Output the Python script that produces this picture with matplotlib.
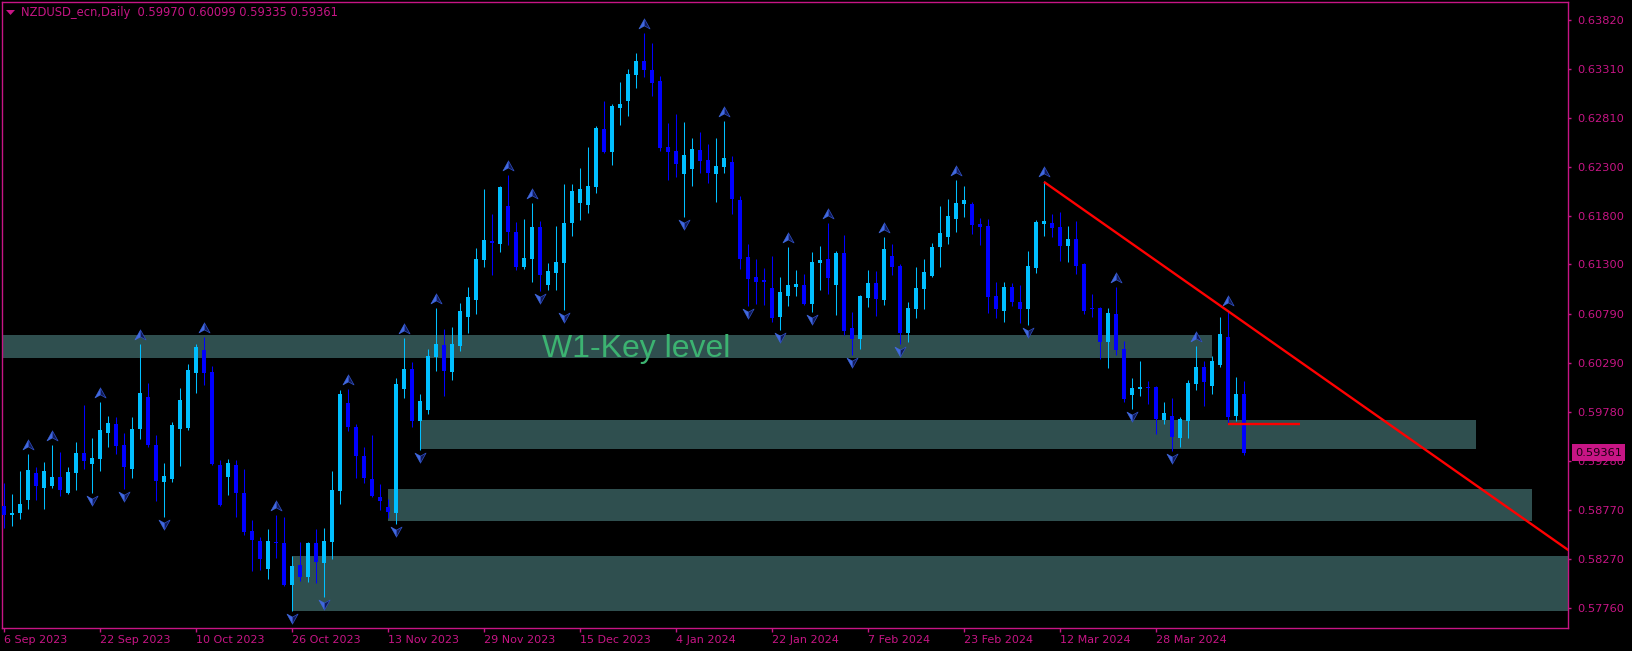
import matplotlib
matplotlib.use('Agg')
import matplotlib.pyplot as plt
import matplotlib.transforms as mtransforms
from matplotlib.path import Path
from matplotlib.patches import Rectangle, Polygon
import numpy as np

# ---------------- data ----------------
opens = [0.58812, 0.58720, 0.58740, 0.58874, 0.59152, 0.58998, 0.59018, 0.59111, 0.58946, 0.59152,
         0.59358, 0.59245, 0.59296, 0.59564, 0.59657, 0.59441, 0.59193, 0.59605, 0.59935, 0.59441,
         0.59059, 0.59090, 0.59605, 0.59616, 0.60182, 0.60419, 0.60192, 0.59235, 0.59111, 0.59235,
         0.58946, 0.58555, 0.58452, 0.58163, 0.58431, 0.58431, 0.57999, 0.58205, 0.58081, 0.58431,
         0.58225, 0.58441, 0.58967, 0.59873, 0.59626, 0.59327, 0.59090, 0.58905, 0.58802, 0.58740,
         0.60017, 0.60223, 0.59688, 0.59801, 0.60347, 0.60471, 0.60192, 0.60460, 0.60759, 0.60934,
         0.61346, 0.61541, 0.61511, 0.61902, 0.61634, 0.61274, 0.61356, 0.61686, 0.61089, 0.61212,
         0.61315, 0.61727, 0.61933, 0.61913, 0.62098, 0.62695, 0.62458, 0.62912, 0.62984, 0.63252,
         0.63396, 0.63303, 0.63190, 0.62510, 0.62469, 0.62232, 0.62283, 0.62479, 0.62376, 0.62232,
         0.62304, 0.62355, 0.61964, 0.61377, 0.61171, 0.61140, 0.61058, 0.60759, 0.60975, 0.61068,
         0.61089, 0.60893, 0.61315, 0.61356, 0.61089, 0.61418, 0.60646, 0.60532, 0.60955, 0.61109,
         0.60934, 0.61387, 0.61284, 0.60594, 0.60841, 0.61047, 0.61181, 0.61480, 0.61583, 0.61768,
         0.61923, 0.61923, 0.61717, 0.61696, 0.60975, 0.60821, 0.61068, 0.60913, 0.60841, 0.61264,
         0.61717, 0.61727, 0.61686, 0.61490, 0.61562, 0.61305, 0.60852, 0.60852, 0.60501, 0.60790,
         0.60429, 0.59956, 0.60017, 0.60033, 0.60038, 0.59698, 0.59739, 0.59513, 0.59688, 0.60069,
         0.60244, 0.60048, 0.60265, 0.60553, 0.59739, 0.59970]
highs = [0.59049, 0.58936, 0.59173, 0.59348, 0.59214, 0.59265, 0.59441, 0.59368, 0.59214, 0.59471,
         0.59853, 0.59513, 0.59883, 0.59739, 0.59729, 0.59564, 0.59729, 0.60481, 0.60079, 0.59544,
         0.59255, 0.59677, 0.60028, 0.60275, 0.60481, 0.60553, 0.60254, 0.59286, 0.59296, 0.59286,
         0.59193, 0.58668, 0.58493, 0.58575, 0.58720, 0.58699, 0.58297, 0.58441, 0.58441, 0.58575,
         0.58586, 0.59173, 0.60007, 0.60017, 0.59657, 0.59420, 0.59544, 0.59039, 0.58884, 0.60131,
         0.60543, 0.60295, 0.59966, 0.60429, 0.60852, 0.60635, 0.60656, 0.60903, 0.61068, 0.61470,
         0.62077, 0.61820, 0.62108, 0.62222, 0.61737, 0.61768, 0.61933, 0.61748, 0.61315, 0.61696,
         0.62129, 0.62129, 0.62294, 0.62510, 0.62726, 0.62984, 0.62953, 0.63179, 0.63313, 0.63478,
         0.63684, 0.63581, 0.63241, 0.62757, 0.62850, 0.62767, 0.62603, 0.62664, 0.62541, 0.62603,
         0.62778, 0.62417, 0.62005, 0.61511, 0.61356, 0.61264, 0.61387, 0.61171, 0.61480, 0.61243,
         0.61202, 0.61428, 0.61490, 0.61727, 0.61439, 0.61604, 0.60810, 0.60986, 0.61243, 0.61233,
         0.61583, 0.61511, 0.61305, 0.60913, 0.61274, 0.61356, 0.61521, 0.61902, 0.61974, 0.62170,
         0.62108, 0.61943, 0.61779, 0.61768, 0.61119, 0.61119, 0.61109, 0.61089, 0.61439, 0.61758,
         0.62160, 0.61820, 0.61840, 0.61696, 0.61748, 0.61315, 0.60996, 0.60862, 0.60852, 0.61068,
         0.60512, 0.60131, 0.60306, 0.60100, 0.60048, 0.59883, 0.59925, 0.59729, 0.60110, 0.60460,
         0.60306, 0.60357, 0.60759, 0.60831, 0.60141, 0.60099]
lows = [0.58586, 0.58606, 0.58678, 0.58781, 0.58874, 0.58781, 0.58998, 0.58915, 0.58936, 0.58977,
        0.59193, 0.58946, 0.59173, 0.59420, 0.59348, 0.58987, 0.59101, 0.59502, 0.59420, 0.58864,
        0.58699, 0.59059, 0.59224, 0.59595, 0.59976, 0.60059, 0.59235, 0.58815, 0.58926, 0.58699,
        0.58514, 0.58143, 0.58153, 0.58060, 0.58277, 0.57988, 0.57731, 0.58040, 0.58029, 0.58019,
        0.57875, 0.58266, 0.58833, 0.59585, 0.59101, 0.59049, 0.58905, 0.58771, 0.58689, 0.58627,
        0.59925, 0.59626, 0.59389, 0.59760, 0.60203, 0.59945, 0.60110, 0.60409, 0.60594, 0.60790,
        0.61274, 0.61192, 0.61428, 0.61501, 0.61243, 0.61253, 0.61119, 0.61027, 0.61037, 0.61037,
        0.60831, 0.61593, 0.61758, 0.61830, 0.62036, 0.62448, 0.62325, 0.62737, 0.62829, 0.63118,
        0.63231, 0.63035, 0.62469, 0.62170, 0.62201, 0.61789, 0.62108, 0.62242, 0.62139, 0.61943,
        0.62242, 0.61820, 0.61253, 0.60872, 0.60893, 0.60883, 0.60707, 0.60625, 0.60872, 0.60975,
        0.60883, 0.60810, 0.61037, 0.60996, 0.60780, 0.60574, 0.60368, 0.60429, 0.60862, 0.60769,
        0.60883, 0.61192, 0.60481, 0.60501, 0.60749, 0.60841, 0.61171, 0.61274, 0.61511, 0.61634,
        0.61789, 0.61614, 0.61501, 0.60800, 0.60749, 0.60707, 0.60872, 0.60697, 0.60677, 0.61212,
        0.61593, 0.61583, 0.61336, 0.61325, 0.61202, 0.60790, 0.60759, 0.60326, 0.60234, 0.60368,
        0.59883, 0.59811, 0.59945, 0.59863, 0.59554, 0.59657, 0.59379, 0.59420, 0.59513, 0.60007,
        0.59842, 0.59966, 0.60244, 0.59657, 0.59688, 0.59335]
closes = [0.58720, 0.58740, 0.58833, 0.59183, 0.59018, 0.59173, 0.59111, 0.58977, 0.59162, 0.59358,
          0.59276, 0.59307, 0.59595, 0.59667, 0.59430, 0.59214, 0.59605, 0.59976, 0.59441, 0.59070,
          0.59121, 0.59647, 0.59904, 0.60213, 0.60450, 0.60182, 0.59245, 0.58823, 0.59255, 0.58946,
          0.58544, 0.58462, 0.58266, 0.58452, 0.58428, 0.57999, 0.58194, 0.58081, 0.58431, 0.58235,
          0.58452, 0.58977, 0.59966, 0.59626, 0.59327, 0.59101, 0.58915, 0.58864, 0.58750, 0.60069,
          0.60223, 0.59688, 0.59894, 0.60357, 0.60481, 0.60203, 0.60481, 0.60821, 0.60965, 0.61356,
          0.61552, 0.61521, 0.62098, 0.61634, 0.61274, 0.61367, 0.61686, 0.61192, 0.61233, 0.61325,
          0.61727, 0.62057, 0.62077, 0.62108, 0.62706, 0.62458, 0.62932, 0.62953, 0.63262, 0.63396,
          0.63303, 0.63169, 0.62500, 0.62458, 0.62335, 0.62428, 0.62489, 0.62366, 0.62242, 0.62314,
          0.62397, 0.61974, 0.61356, 0.61150, 0.61119, 0.61119, 0.60749, 0.61016, 0.61089, 0.61099,
          0.60893, 0.61325, 0.61346, 0.61161, 0.61418, 0.60615, 0.60532, 0.60975, 0.61109, 0.60944,
          0.61459, 0.61274, 0.60594, 0.60852, 0.61058, 0.61222, 0.61480, 0.61624, 0.61799, 0.61933,
          0.61964, 0.61707, 0.61686, 0.60965, 0.60841, 0.61068, 0.60913, 0.60841, 0.61284, 0.61737,
          0.61748, 0.61676, 0.61490, 0.61562, 0.61284, 0.60821, 0.60841, 0.60501, 0.60800, 0.60419,
          0.59914, 0.60028, 0.60038, 0.60023, 0.59708, 0.59770, 0.59523, 0.59708, 0.60079, 0.60244,
          0.60089, 0.60306, 0.60584, 0.59729, 0.59966, 0.59361]

# bar indices with fractal arrows
fractal_up = [3, 6, 12, 17, 25, 34, 43, 50, 54, 63, 66, 80, 90, 98, 103, 110, 119, 130, 139, 149, 153]
fractal_down = [11, 15, 20, 36, 40, 49, 52, 67, 70, 85, 93, 97, 101, 106, 112, 128, 141, 146]

# key level zones (bar start, bar end, price low, price high)
zone_start = [-1, 52, 48, 36]
zone_end = [151, 184, 191, 200]
zone_low = [0.60337, 0.59400, 0.58658, 0.57731]
zone_high = [0.60574, 0.59698, 0.58988, 0.58298]

# trend line anchors (bar, price) and short horizontal level
trend_x = [130, 177]
trend_y = [0.62150, 0.59431]
level_x = [153, 162]
level_y = 0.59657

tick_bars = [0, 12, 24, 36, 48, 60, 72, 84, 96, 108, 120, 132, 144]
tick_dates = ["6 Sep 2023", "22 Sep 2023", "10 Oct 2023", "26 Oct 2023", "13 Nov 2023",
              "29 Nov 2023", "15 Dec 2023", "4 Jan 2024", "22 Jan 2024", "7 Feb 2024",
              "23 Feb 2024", "12 Mar 2024", "28 Mar 2024"]
price_ticks = ["0.63820", "0.63310", "0.62810", "0.62300", "0.61800", "0.61300", "0.60790",
               "0.60290", "0.59780", "0.59280", "0.58770", "0.58270", "0.57760"]

title = "NZDUSD_ecn,Daily  0.59970 0.60099 0.59335 0.59361"
last_price = "0.59361"

# ---------------- style ----------------
PINK = '#C71585'
BULL = '#00BFFF'
BEAR = '#0000FF'
ZONE = '#2F4F4F'

W, H = 1633, 651
fig = plt.figure(figsize=(W / 100, H / 100), dpi=100, facecolor='black')
ax = fig.add_axes([2 / W, (H - 628) / H, (1568 - 2) / W, (628 - 2) / H])
ax.set_facecolor('black')
ax.set_xlim(-0.25, 195.5)
ax.set_ylim(0.57556, 0.64003)

# zones
for xs, xe, lo, hi in zip(zone_start, zone_end, zone_low, zone_high):
    ax.add_patch(Rectangle((xs, lo), xe - xs, hi - lo, facecolor=ZONE, edgecolor='none', zorder=1))

ax.text(67.2, 0.60347, "W1-Key level", fontsize=23, family=['Liberation Sans', 'DejaVu Sans'],
        color='#3CB371', ha='left', va='baseline', zorder=6)

# candles
o = np.array(opens); h = np.array(highs); l = np.array(lows); c = np.array(closes)
x = np.arange(len(o))
cols = np.where(c >= o, BULL, BEAR)
ax.vlines(x, l, h, colors=cols, linewidth=0.75, zorder=3)
body_bottom = np.minimum(o, c)
body_h = np.maximum(np.abs(c - o), 0.0001)
ax.bar(x, body_h, bottom=body_bottom, width=0.62, color=cols, linewidth=0, zorder=4)

# fractal arrows
def half_paths(direction):
    s = direction
    left = Path([(0, s * 1), (0, -s * 0.25), (-1, -s * 0.8), (0, s * 1)],
                [Path.MOVETO, Path.LINETO, Path.LINETO, Path.CLOSEPOLY])
    right = Path([(0, s * 1), (1, -s * 0.8), (0, -s * 0.25), (0, s * 1)],
                 [Path.MOVETO, Path.LINETO, Path.LINETO, Path.CLOSEPOLY])
    return left, right

up_l, up_r = half_paths(1)
dn_l, dn_r = half_paths(-1)
ux = np.array(fractal_up)
uy = h[ux] + 0.00095
dx = np.array(fractal_down)
dy = l[dx] - 0.00076
for px, py, pl, pr in [(ux, uy, up_l, up_r), (dx, dy, dn_l, dn_r)]:
    ax.plot(px, py, linestyle='none', marker=pl, markersize=8,
            markerfacecolor='#4169E1', markeredgecolor='#4169E1', markeredgewidth=0.4, zorder=5)
    ax.plot(px, py, linestyle='none', marker=pr, markersize=8,
            markerfacecolor='#111A55', markeredgecolor='#3050C8', markeredgewidth=0.5, zorder=5)

# trend line (ray)
slope = (trend_y[1] - trend_y[0]) / (trend_x[1] - trend_x[0])
x_end = 205
ax.plot([trend_x[0], x_end], [trend_y[0], trend_y[0] + slope * (x_end - trend_x[0])],
        color='#FF0000', linewidth=1.7, zorder=7, solid_capstyle='butt')
ax.plot(level_x, [level_y, level_y], color='#FF0000', linewidth=1.7, zorder=7, solid_capstyle='butt')

# axes styling
for sp in ax.spines.values():
    sp.set_color(PINK)
    sp.set_linewidth(1.0)

ax.yaxis.tick_right()
ax.set_yticks([float(v) for v in price_ticks])
ax.set_yticklabels(price_ticks)
ax.tick_params(axis='y', colors=PINK, length=2.5, width=1, pad=4, labelsize=8.2, labelcolor=PINK)
ax.set_xticks(tick_bars)
ax.set_xticklabels(tick_dates)
ax.tick_params(axis='x', colors=PINK, length=3, width=1, pad=2, labelsize=8, labelcolor=PINK)
for lbl in ax.get_xticklabels():
    lbl.set_horizontalalignment('left')

# current price label
trans = mtransforms.blended_transform_factory(ax.transAxes, ax.transData)
ax.text(1.0 + 7 / 1566, float(last_price), last_price, transform=trans, fontsize=8.2,
        color='#1a0010', ha='left', va='center', zorder=10, clip_on=False,
        bbox=dict(boxstyle='square,pad=0.3', facecolor=PINK, edgecolor='none'))

# title
fig.text(21 / W, 1 - 12.5 / H, title, fontsize=8.3, color=PINK, ha='left', va='center')
fig.patches.append(Polygon([(6 / W, 1 - 10 / H), (15 / W, 1 - 10 / H), (10.5 / W, 1 - 15 / H)],
                           closed=True, transform=fig.transFigure, facecolor=PINK, edgecolor='none'))

fig.savefig('out.png', dpi=100, facecolor='black')
